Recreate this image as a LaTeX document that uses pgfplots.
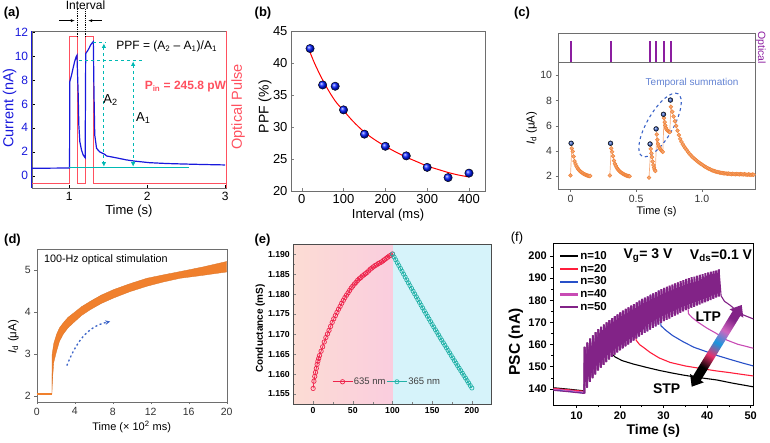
\documentclass[border=0pt]{standalone}
\usepackage{pgfplots}
\pgfplotsset{compat=1.18}
\usepackage{pgfplotstable}
\usepackage{fontspec}
\setmainfont{Liberation Sans}
\usetikzlibrary{arrows.meta}
\newcommand{\fs}[1]{\fontsize{#1}{#1}\selectfont}
\definecolor{aBlue}{RGB}{25,25,220}
\definecolor{aRed}{RGB}{255,80,95}
\definecolor{aCyan}{RGB}{0,185,180}
\definecolor{cOrange}{RGB}{240,130,55}
\definecolor{cOrangeL}{RGB}{246,175,130}
\definecolor{cBlue}{RGB}{60,100,200}
\definecolor{cPurple}{RGB}{140,30,160}
\definecolor{dOrange}{RGB}{240,128,45}
\definecolor{ePinkL}{RGB}{252,220,212}
\definecolor{ePinkR}{RGB}{250,205,222}
\definecolor{eCyan}{RGB}{214,243,250}
\definecolor{eRed}{RGB}{238,35,75}
\definecolor{eTeal}{RGB}{35,178,168}
\definecolor{fRed}{RGB}{255,30,60}
\definecolor{fBlue}{RGB}{40,80,200}
\definecolor{fMag}{RGB}{200,75,180}
\definecolor{fPur}{RGB}{130,35,135}
\definecolor{frame}{RGB}{110,110,110}
\pgfdeclareverticalshading{ltpstp}{100bp}{color(0bp)=(black); color(32bp)=(black); color(42bp)=(fRed!60!fMag); color(52bp)=(fBlue!60!cyan); color(62bp)=(fMag!85); color(72bp)=(fPur); color(100bp)=(fPur)}
\pgfplotsset{
  every axis/.append style={scale only axis, anchor=north west,
    /pgf/number format/assume math mode=true},
}
\pgfplotstableread{
t v
11.80 138.0
11.85 159.0
12.43 140.7
12.48 160.9
13.06 143.2
13.11 162.7
13.69 144.9
13.74 164.2
14.32 146.6
14.37 165.6
14.95 148.4
15.00 167.0
15.58 149.7
15.63 168.0
16.21 150.9
16.26 169.0
16.84 152.2
16.89 170.0
17.47 153.4
17.52 171.0
18.10 154.5
18.15 171.9
18.73 155.5
18.78 172.8
19.36 156.5
19.41 173.6
19.99 157.5
20.04 174.5
20.62 158.4
20.67 175.3
21.25 159.3
21.30 176.1
21.88 160.1
21.93 176.8
22.51 161.0
22.56 177.6
23.14 161.9
23.19 178.3
23.77 162.8
23.82 179.1
24.40 163.7
24.45 179.8
25.03 164.5
25.08 180.6
25.66 165.3
25.71 181.2
26.29 166.0
26.34 181.8
26.92 166.8
26.97 182.5
27.55 167.6
27.60 183.1
28.18 168.3
28.23 183.7
28.81 169.1
28.86 184.4
29.44 169.8
29.49 185.0
30.07 170.6
30.12 185.6
30.70 171.2
30.75 186.1
31.33 171.8
31.38 186.6
31.96 172.5
32.01 187.1
32.59 173.1
32.64 187.6
33.22 173.7
33.27 188.1
33.85 174.4
33.90 188.6
34.48 175.0
34.53 189.1
35.11 175.6
35.16 189.6
35.74 176.1
35.79 190.0
36.37 176.6
36.42 190.4
37.00 177.1
37.05 190.7
37.63 177.6
37.68 191.1
38.26 178.1
38.31 191.5
38.89 178.6
38.94 191.8
39.52 179.1
39.57 192.2
40.15 179.6
40.20 192.6
40.78 180.1
40.83 192.9
41.41 180.7
41.46 193.2
42.04 181.2
42.09 193.5
42.67 181.7
42.72 193.9
}\fpulse
\begin{document}
\begin{tikzpicture}
\useasboundingbox (0,0) rectangle (770pt,-442pt);
% ---------------- (a)
\begin{axis}[at={(31.7pt,-31.3pt)}, width=194.3pt, height=157pt,
  xmin=0.52, xmax=3.01, ymin=-1.05, ymax=12.06,
  xtick={1,2,3}, ytick={0,2,4,6,8,10,12},
  tick align=inside, xtick pos=bottom, ytick pos=left, major tick length=3pt,
  axis line style={draw=frame}, tick style={black},
  ticklabel style={font=\fs{12}}, yticklabel style={text=aBlue},
  xlabel={Time (s)}, ylabel={Current (nA)},
  xlabel style={at={(axis description cs:0.5,-0.143)}, anchor=center, font=\fs{13}},
  ylabel style={at={(axis description cs:-0.114,0.511)}, anchor=center, font=\fs{14.5}, text=aBlue},
  clip=false]
\addplot[aRed, line width=1.1pt] coordinates {(0.52,-0.64)(1.0,-0.64)(1.0,11.6)(1.105,11.6)(1.105,-0.64)(1.21,-0.64)(1.21,11.6)(1.315,11.6)(1.315,-0.64)(3.01,-0.64)};
\addplot[aBlue, line width=1.2pt] coordinates {(0.52,0.62)(0.70,0.63)(0.90,0.64)(1.005,0.65)(1.008,7.85)(1.031,8.41)(1.05,8.97)(1.07,9.53)(1.09,9.94)(1.10,10.05)(1.115,7.0)(1.124,4.24)(1.137,2.84)(1.158,2.15)(1.18,1.73)(1.205,1.5)(1.212,10.2)(1.235,10.42)(1.255,10.64)(1.275,10.92)(1.30,11.14)(1.31,11.2)(1.318,7.0)(1.328,3.4)(1.351,2.29)(1.39,2.0)(1.458,1.78)(1.48,1.65)(1.6,1.5)(1.735,1.32)(1.84,1.22)(2.03,1.09)(2.25,1.02)(2.46,0.98)(2.7,0.94)(3.0,0.9)};
\draw[aBlue, line width=1pt] (rel axis cs:0,0) -- (rel axis cs:0,1);
\draw[aRed, line width=1pt] (rel axis cs:1,0) -- (rel axis cs:1,1);
\draw[aCyan, dashed, line width=1pt] (axis cs:1.31,11.1) -- (axis cs:1.47,11.1);
\draw[aCyan, dashed, line width=1pt] (axis cs:1.124,9.6) -- (axis cs:1.95,9.6);
\draw[aCyan, line width=1.1pt] (axis cs:1.0,0.7) -- (axis cs:2.53,0.7);
\draw[aCyan, dashed, line width=1pt, {Latex[length=4.5pt,width=4.5pt]}-{Latex[length=4.5pt,width=4.5pt]}] (axis cs:1.445,11.05) -- (axis cs:1.445,0.75);
\draw[aCyan, dashed, line width=1pt, {Latex[length=4.5pt,width=4.5pt]}-{Latex[length=4.5pt,width=4.5pt]}] (axis cs:1.82,9.55) -- (axis cs:1.82,0.75);
\node[font=\fs{12}] at (axis cs:2.25,10.78) {PPF = (A\textsubscript{2} – A\textsubscript{1})/A\textsubscript{1}};
\node[font=\fs{13}] at (axis cs:1.53,6.3) {A\textsubscript{2}};
\node[font=\fs{13}] at (axis cs:1.95,4.8) {A\textsubscript{1}};
\node[font=\bfseries\fs{12}, text=aRed] at (axis cs:2.49,7.44) {P\textsubscript{in} = 245.8 pW};
\node[font=\fs{12}] at (axis cs:1.21,14.2) {Interval};
\draw[densely dotted, line width=0.8pt] (axis cs:1.103,13.9) -- (axis cs:1.103,11.6);
\draw[densely dotted, line width=0.8pt] (axis cs:1.214,13.9) -- (axis cs:1.214,11.6);
\draw[-{Latex[length=4pt]}, line width=0.6pt] (axis cs:0.872,12.95) -- (axis cs:1.073,12.95);
\draw[-{Latex[length=4pt]}, line width=0.6pt] (axis cs:1.415,12.95) -- (axis cs:1.244,12.95);
\node[rotate=90, text=aRed, font=\fs{14.5}] at (axis description cs:1.063,0.52) {Optical Pulse};
\end{axis}
% ---------------- (b)
\begin{axis}[at={(291pt,-31.3pt)}, width=194pt, height=159.7pt,
  xmin=-25.6, xmax=438.3, ymin=20, ymax=45,
  xtick={0,100,200,300,400}, ytick={20,25,30,35,40,45},
  tick align=inside, xtick pos=bottom, ytick pos=left, major tick length=3pt,
  axis line style={draw=frame}, ticklabel style={font=\fs{13}},
  xlabel={Interval (ms)}, ylabel={PPF (\%)},
  xlabel style={at={(axis description cs:0.5,-0.15)}, anchor=center, font=\fs{13}},
  ylabel style={at={(axis description cs:-0.134,0.528)}, anchor=center, font=\fs{14}},
  clip=false]
\addplot[red, line width=1pt, smooth] coordinates {(20,41.7)(30,40.1)(40,38.7)(50,37.4)(60,36.2)(70,35.1)(80,34.1)(90,33.3)(100,32.6)(120,31.1)(140,29.8)(160,28.7)(180,27.8)(200,27.0)(225,26.1)(250,25.3)(275,24.6)(300,23.9)(325,23.4)(350,22.9)(375,22.5)(400,22.2)};
\addplot[only marks, mark=ball, mark size=4.2pt, mark options={ball color=blue!90!cyan}] coordinates {(20,42.3)(50,36.6)(80,36.4)(100,32.7)(150,28.9)(200,27.0)(250,25.5)(300,23.7)(350,22.1)(400,22.8)};
\end{axis}
% ---------------- (c) top
\begin{axis}[at={(558pt,-33pt)}, width=197pt, height=29pt,
  xmin=-0.095, xmax=1.405, ymin=0, ymax=1.4, ticks=none,
  axis line style={draw=frame}, clip=false]
\addplot[ycomb, cPurple, line width=2pt] coordinates {(0.005,1)(0.306,1)(0.605,1)(0.652,1)(0.709,1)(0.763,1)};
\node[rotate=-90, text=cPurple, font=\fs{10.5}] at (axis description cs:1.03,0.5) {Optical};
\end{axis}
% ---------------- (c) main
\begin{axis}[at={(558pt,-62pt)}, width=197pt, height=127pt,
  xmin=-0.095, xmax=1.405, ymin=0.97, ymax=11.05,
  xtick={0,0.5,1}, xticklabels={0,0.5,1.0}, ytick={2,4,6,8,10},
  tick align=outside, xtick pos=bottom, ytick pos=left, major tick length=2.5pt,
  axis line style={draw=frame}, tick style={frame},
  ticklabel style={font=\fs{10.5}, text=black!80},
  xlabel={Time (s)}, ylabel={\textit{I}\textsubscript{d} (μA)},
  xlabel style={at={(axis description cs:0.5,-0.181)}, anchor=center, font=\fs{11}},
  ylabel style={at={(axis description cs:-0.134,0.478)}, anchor=center, font=\fs{11.5}},
  clip=false]
\addplot[cOrangeL, line width=0.7pt, mark=*, mark size=1.9pt, mark options={draw=cOrange, fill=cOrange!70!white, line width=0.5pt}] coordinates {(0.000,2.05)(0.010,4.20)(0.017,3.95)(0.024,3.55)(0.031,3.18)(0.038,2.96)(0.045,2.80)(0.052,2.66)(0.059,2.55)(0.066,2.46)(0.073,2.38)(0.080,2.32)(0.087,2.27)(0.094,2.22)(0.101,2.18)(0.108,2.14)(0.115,2.10)(0.122,2.07)(0.129,2.04)(0.136,2.02)(0.143,2.00)(0.150,2.01)};
\addplot[cOrangeL, line width=0.7pt, mark=*, mark size=1.9pt, mark options={draw=cOrange, fill=cOrange!70!white, line width=0.5pt}] coordinates {(0.300,2.05)(0.310,4.20)(0.317,3.92)(0.324,3.58)(0.331,3.22)(0.338,2.98)(0.345,2.82)(0.352,2.67)(0.359,2.56)(0.366,2.47)(0.373,2.39)(0.380,2.32)(0.387,2.26)(0.394,2.21)(0.401,2.17)(0.408,2.13)(0.415,2.09)(0.422,2.06)(0.429,2.03)(0.436,2.01)(0.443,1.99)(0.450,1.98)};
\addplot[cOrangeL, line width=0.7pt, mark=*, mark size=1.9pt, mark options={draw=cOrange, fill=cOrange!70!white, line width=0.5pt}] coordinates {(0.598,1.88)(0.611,4.15)(0.616,3.80)(0.621,3.50)(0.626,3.15)(0.631,2.88)(0.636,2.66)(0.641,2.50)(0.646,2.40)(0.657,5.30)(0.662,4.88)(0.667,4.55)(0.673,4.35)(0.679,4.22)(0.685,4.12)(0.691,4.04)(0.697,3.98)(0.703,3.92)(0.712,6.60)(0.717,6.28)(0.722,6.02)(0.727,5.82)(0.732,5.70)(0.738,5.62)(0.744,5.56)(0.750,5.52)(0.756,5.48)(0.765,7.50)(0.775,7.10)(0.785,6.72)(0.795,6.35)(0.805,5.98)(0.815,5.60)(0.825,5.25)(0.835,4.95)(0.845,4.72)(0.855,4.52)(0.865,4.35)(0.875,4.20)(0.885,4.05)(0.895,3.92)(0.905,3.78)(0.915,3.66)(0.925,3.55)(0.935,3.45)(0.945,3.36)(0.955,3.27)(0.965,3.18)(0.975,3.10)(0.985,3.02)(0.995,2.95)(1.005,2.88)(1.015,2.80)(1.025,2.74)(1.035,2.68)(1.045,2.62)(1.055,2.57)(1.065,2.52)(1.075,2.47)(1.085,2.43)(1.095,2.39)(1.105,2.36)(1.115,2.33)(1.125,2.30)(1.135,2.28)(1.145,2.26)(1.155,2.24)(1.165,2.22)(1.175,2.21)(1.185,2.20)(1.195,2.18)(1.205,2.20)(1.215,2.17)(1.225,2.15)(1.235,2.18)(1.245,2.16)(1.255,2.14)(1.265,2.17)(1.275,2.15)(1.285,2.13)(1.295,2.16)(1.305,2.14)(1.315,2.12)(1.325,2.15)(1.335,2.12)(1.345,2.10)(1.355,2.13)(1.365,2.11)(1.375,2.09)(1.385,2.12)(1.395,2.10)};
\addplot[only marks, mark=ball, mark size=2.4pt, mark options={ball color=cBlue}] coordinates {(0.005,4.6)(0.305,4.6)(0.606,4.54)(0.652,5.74)(0.708,6.9)(0.761,8.03)};
\draw[cBlue, dashed, line width=1.1pt, rotate around={60:(axis cs:0.682,6.05)}] (axis cs:0.682,6.05) ellipse [x radius=36pt, y radius=13pt];
\node[text=cBlue!80!white, font=\fs{10}] at (axis cs:0.926,9.4) {Temporal summation};
\end{axis}
% ---------------- (d)
\begin{axis}[at={(36.7pt,-249.3pt)}, width=190pt, height=152.4pt,
  xmin=0, xmax=20, ymin=1.86, ymax=5.49,
  xtick={0,4,8,12,16,20}, ytick={2,3,4,5},
  tick align=outside, xtick pos=bottom, ytick pos=left, major tick length=2.5pt,
  axis line style={draw=frame}, tick style={frame},
  ticklabel style={font=\fs{10.5}, text=black!80},
  xlabel={Time (× 10\textsuperscript{2} ms)}, ylabel={\textit{I}\textsubscript{d} (μA)},
  xlabel style={at={(axis description cs:0.5,-0.168)}, anchor=center, font=\fs{11}},
  ylabel style={at={(axis description cs:-0.123,0.427)}, anchor=center, font=\fs{11.5}},
  clip=false]
\addplot[dOrange, line width=1.5pt] coordinates {(0,2.04)(1.6,2.04)};
\addplot[fill=dOrange, draw=dOrange!90!black, line width=0.3pt] coordinates {(1.60,2.04)(1.62,2.98)(1.80,3.25)(2.10,3.47)(2.40,3.62)(2.80,3.74)(3.30,3.87)(3.87,3.97)(4.70,4.12)(5.63,4.25)(6.80,4.40)(8.09,4.53)(9.80,4.67)(11.60,4.80)(13.30,4.88)(15.10,4.96)(17.50,5.07)(20.00,5.20)(20.00,4.95)(17.50,4.87)(15.10,4.80)(13.30,4.71)(11.60,4.61)(9.80,4.48)(8.09,4.33)(6.80,4.20)(5.63,4.05)(4.70,3.91)(3.87,3.74)(3.30,3.62)(2.80,3.47)(2.40,3.30)(2.10,3.07)(1.80,2.80)(1.68,2.45)(1.60,2.04)} -- cycle;
\draw[cBlue, line width=1.3pt, dash pattern=on 2pt off 2.5pt, -{Stealth[length=5pt,width=4.5pt]}] (axis cs:3.17,2.72) to[out=68,in=192] (axis cs:7.74,3.77);
\node[anchor=west, font=\fs{10.8}] at (axis cs:0.4,5.24) {100-Hz optical stimulation};
\end{axis}
% ---------------- (e)
\begin{axis}[at={(293.3pt,-244pt)}, width=198.4pt, height=160pt,
  xmin=-25, xmax=225, ymin=1.1525, ymax=1.1925,
  xtick={0,50,100,150,200}, ytick={1.155,1.160,1.165,1.170,1.175,1.180,1.185,1.190},
  minor x tick num=1, minor y tick num=1, scaled y ticks=false,
  yticklabel style={/pgf/number format/fixed, /pgf/number format/fixed zerofill, /pgf/number format/precision=3},
  tick align=inside, xtick pos=bottom, ytick pos=left, major tick length=3pt, minor tick length=1.8pt,
  axis line style={draw=black!70, line width=0.8pt}, axis on top,
  ticklabel style={font=\bfseries\fs{8.7}},
  ylabel={Conductance (mS)},
  ylabel style={at={(axis description cs:-0.166,0.473)}, anchor=center, font=\bfseries\fs{10}},
  legend columns=2,
  legend style={draw=none, fill=none, at={(0.18,0.139)}, anchor=west, font=\fs{9.5}, text=black!75, nodes={inner sep=1pt}},
  legend image code/.code={\draw[mark repeat=2, mark phase=2, #1] plot coordinates {(0pt,0pt)(10pt,0pt)(20pt,0pt)};},
  clip=false]
\fill[left color=ePinkL, right color=ePinkR] (axis cs:-25,1.1525) rectangle (axis cs:100,1.1925);
\fill[eCyan] (axis cs:100,1.1525) rectangle (axis cs:225,1.1925);
\addplot[eRed, line width=0.7pt, mark=o, mark size=2.2pt, mark options={line width=0.7pt}] coordinates {(0,1.1564)(1,1.1582)(2,1.1594)(3,1.1604)(4,1.1614)(5,1.1624)(6,1.1632)(7,1.1639)(8,1.1646)(10,1.1657)(12,1.1668)(14,1.1680)(16,1.1691)(18,1.1700)(20,1.1709)(22,1.1719)(24,1.1729)(26,1.1738)(28,1.1746)(30,1.1754)(32,1.1762)(34,1.1769)(36,1.1777)(38,1.1784)(40,1.1791)(42,1.1797)(44,1.1803)(46,1.1809)(48,1.1815)(50,1.1820)(52,1.1825)(54,1.1829)(56,1.1834)(58,1.1838)(60,1.1841)(62,1.1845)(64,1.1848)(66,1.1851)(68,1.1854)(70,1.1858)(72,1.1862)(74,1.1865)(76,1.1868)(78,1.1871)(80,1.1873)(82,1.1876)(84,1.1878)(86,1.1880)(88,1.1883)(90,1.1886)(92,1.1889)(94,1.1892)(96,1.1895)(98,1.1897)(100,1.1900)};
\addlegendentry{635 nm\hspace{18pt}}
\addplot[eTeal, line width=0.7pt, mark=o, mark size=2.1pt, mark options={line width=0.7pt}] coordinates {(100,1.19000)(102,1.18928)(104,1.18856)(106,1.18784)(108,1.18712)(110,1.18640)(112,1.18568)(114,1.18496)(116,1.18424)(118,1.18352)(120,1.18280)(122,1.18210)(124,1.18140)(126,1.18070)(128,1.18000)(130,1.17930)(132,1.17860)(134,1.17790)(136,1.17720)(138,1.17650)(140,1.17580)(142,1.17512)(144,1.17444)(146,1.17376)(148,1.17308)(150,1.17240)(152,1.17174)(154,1.17108)(156,1.17042)(158,1.16976)(160,1.16910)(162,1.16846)(164,1.16782)(166,1.16718)(168,1.16654)(170,1.16590)(172,1.16526)(174,1.16462)(176,1.16398)(178,1.16334)(180,1.16270)(182,1.16208)(184,1.16146)(186,1.16084)(188,1.16022)(190,1.15960)(192,1.15898)(194,1.15836)(196,1.15774)(198,1.15712)(200,1.15650)};
\addlegendentry{365 nm}
\end{axis}
% ---------------- (f)
\begin{axis}[at={(553.3pt,-243.3pt)}, width=200pt, height=161.7pt,
  xmin=4.67, xmax=50.6, ymin=132.8, ymax=205.7,
  xtick={10,20,30,40,50}, ytick={140,150,160,170,180,190,200},
  minor x tick num=1, minor y tick num=1,
  tick align=outside, xtick pos=bottom, ytick pos=left, major tick length=3pt, minor tick length=2pt,
  axis line style={draw=black, line width=1pt}, tick style={black, line width=0.8pt},
  ticklabel style={font=\bfseries\fs{11}},
  xlabel={Time (s)}, ylabel={PSC (nA)},
  xlabel style={at={(axis description cs:0.5,-0.159)}, anchor=center, font=\bfseries\fs{14}},
  ylabel style={at={(axis description cs:-0.187,0.391)}, anchor=center, font=\bfseries\fs{15.5}},
  legend style={draw=none, fill=none, at={(0.013,0.971)}, anchor=north west, font=\bfseries\fs{11.5}, nodes={inner sep=1pt}, row sep=1.3pt, cells={anchor=west}},
  legend image code/.code={\draw[#1, line width=2.2pt] (0pt,0pt) -- (18pt,0pt);},
  clip=true]
\addlegendimage{black}\addlegendentry{n=10}
\addlegendimage{fRed}\addlegendentry{n=20}
\addlegendimage{fBlue}\addlegendentry{n=30}
\addlegendimage{fMag}\addlegendentry{n=40}
\addlegendimage{fPur}\addlegendentry{n=50}
% n=10
\addplot[black, line width=1pt, forget plot] coordinates {(4.7,140.6)(8,140.0)(11.8,139.2)};
\addplot[black, line width=1.3pt, forget plot, restrict x to domain=11.7:17.55] table[x=t, y=v] {\fpulse};
\addplot[black, line width=1.1pt, forget plot] coordinates {(17.52,171.0)(18.1,156.0)(18.9,154.4)(20.5,152.8)(23,151.3)(26,149.8)(29,148.4)(32,147.2)(34.5,146.3)(38,145.2)(42.2,144.1)(46,142.6)(50.6,141.0)};
% n=20
\addplot[fRed, line width=1pt, forget plot] coordinates {(4.7,140.3)(8,139.7)(11.8,139.0)};
\addplot[fRed, line width=1.3pt, forget plot, restrict x to domain=11.7:23.22] table[x=t, y=v] {\fpulse};
\addplot[fRed, line width=1.1pt, forget plot] coordinates {(23.19,178.3)(23.7,162.0)(24.5,160.0)(25.5,158.6)(26.9,156.5)(29,154.0)(31.5,152.0)(35,150.4)(38.4,149.3)(42,148.2)(45.2,147.4)(48,146.6)(50.6,145.9)};
% n=30
\addplot[fBlue, line width=1pt, forget plot] coordinates {(4.7,139.6)(8,139.0)(11.8,138.2)};
\addplot[fBlue, line width=1.3pt, forget plot, restrict x to domain=11.7:28.9] table[x=t, y=v] {\fpulse};
\addplot[fBlue, line width=1.1pt, forget plot] coordinates {(28.86,184.4)(29.4,168.5)(30.5,166.5)(32,164.2)(34.5,161.3)(37,158.8)(39.9,156.8)(42.5,155.0)(45.2,153.4)(48,151.8)(50.6,150.4)};
% n=40
\addplot[fMag, line width=1pt, forget plot] coordinates {(4.7,140.0)(8,139.4)(11.8,138.6)};
\addplot[fMag, line width=1.3pt, forget plot, restrict x to domain=11.7:35.2] table[x=t, y=v] {\fpulse};
\addplot[fMag, line width=1.1pt, forget plot] coordinates {(35.16,189.6)(35.7,174.0)(36.5,172.3)(38,170.0)(40,167.4)(42,165.2)(44.5,162.1)(47,160.2)(50.6,158.4)};
% n=50
\addplot[fPur, line width=1pt, forget plot] coordinates {(4.7,139.4)(8,138.8)(11.8,138.0)};
\addplot[fPur, line width=2pt, line join=bevel, forget plot] table[x=t, y=v] {\fpulse};
\addplot[fPur, line width=1.1pt, forget plot] coordinates {(42.72,193.9)(43.2,182.0)(44,179.5)(45.2,177.9)(46.5,175.8)(48.3,173.4)(50.6,171.6)};
\end{axis}
% gradient arrow (f)
\shade[shading=ltpstp, shading angle=-31.5] (691.7pt,-386.7pt) -- (690.1pt,-374.0pt) -- (693.08pt,-375.82pt) -- (732.65pt,-311.16pt) -- (729.67pt,-309.33pt) -- (741.71pt,-304.98pt) -- (743.31pt,-317.69pt) -- (740.33pt,-315.86pt) -- (700.76pt,-380.52pt) -- (703.74pt,-382.35pt) -- cycle;
\node[font=\bfseries\fs{14}] at (648pt,-255.7pt) {V\textsubscript{g}= 3 V};
\node[font=\bfseries\fs{14}] at (721pt,-255.7pt) {V\textsubscript{ds}=0.1 V};
\node[font=\bfseries\fs{14}] at (708.3pt,-316.7pt) {LTP};
\node[font=\bfseries\fs{14}] at (666.7pt,-388.3pt) {STP};
% panel labels
\node[font=\bfseries\fs{13}] at (11.7pt,-13.3pt) {(a)};
\node[font=\bfseries\fs{13}] at (263pt,-13.3pt) {(b)};
\node[font=\bfseries\fs{13}] at (522pt,-13.3pt) {(c)};
\node[font=\bfseries\fs{13}] at (12.5pt,-240pt) {(d)};
\node[font=\bfseries\fs{13}] at (262.5pt,-240pt) {(e)};
\node[font=\fs{13}] at (517pt,-238pt) {(f)};
\end{tikzpicture}
\end{document}
